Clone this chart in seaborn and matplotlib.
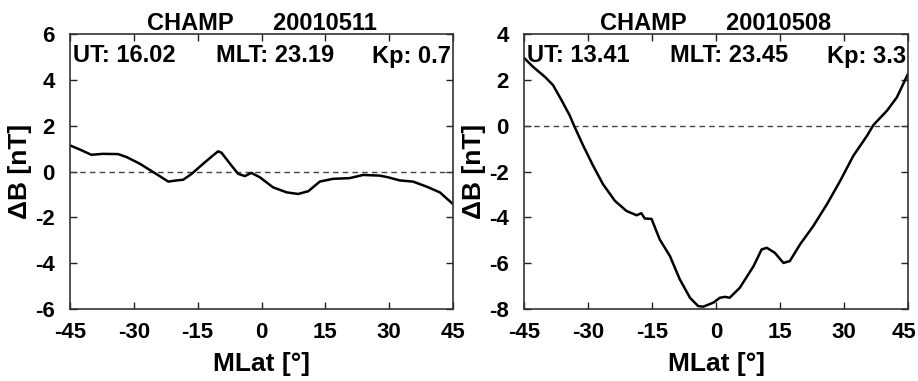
import numpy as np
import pandas as pd
import matplotlib
matplotlib.use("Agg")
import matplotlib.pyplot as plt
import matplotlib.transforms as mtransforms
import seaborn as sns

# ---- data ----
mlat_a = [-45, -42.7, -40, -37.2, -33.7, -31.7, -28.6, -25.4, -21.9, -20, -18.4, -16.4,
          -13.7, -11.4, -10.2, -9.4, -7.4, -5.5, -3.9, -2.4, -0.4, 2.7, 5.9, 8.6, 11,
          13.7, 16.8, 20.7, 23.9, 27.8, 29.7, 32.5, 35.6, 38.8, 41.9, 45]
db_a = [1.14, 0.96, 0.73, 0.77, 0.76, 0.63, 0.34, -0.03, -0.44, -0.39, -0.36, -0.10,
        0.34, 0.70, 0.88, 0.82, 0.34, -0.10, -0.20, -0.06, -0.25, -0.69, -0.91, -0.98, -0.86,
        -0.44, -0.32, -0.29, -0.15, -0.18, -0.25, -0.39, -0.44, -0.66, -0.91, -1.42]

mlat_b = [-45, -42.9, -40.1, -38.2, -36.2, -34.3, -33.1, -31.1, -28.8, -26.5, -23.7, -21,
          -18.6, -17.5, -16.7, -15.1, -13.2, -10.8, -8.5, -6.1, -4.2, -3, -0.6, 0.9, 2.1,
          3.2, 5.6, 8.8, 10.7, 11.9, 13.8, 15.8, 17.3, 19.7, 22.8, 26, 29.1, 32.2, 35.4,
          36.9, 40.1, 42.4, 45]
db_b = [2.96, 2.57, 2.13, 1.77, 1.11, 0.45, -0.07, -0.88, -1.75, -2.55, -3.28, -3.72,
        -3.91, -3.82, -4.05, -4.07, -4.96, -5.69, -6.70, -7.51, -7.87, -7.90, -7.72, -7.51, -7.47,
        -7.51, -7.07, -6.13, -5.40, -5.33, -5.55, -5.99, -5.91, -5.18, -4.38, -3.43, -2.41, -1.31, -0.44,
        0.03, 0.66, 1.24, 2.26]

titles = ["CHAMP      20010511", "CHAMP      20010508"]
ut_labels = ["UT: 16.02", "UT: 13.41"]
mlt_labels = ["MLT: 23.19", "MLT: 23.45"]
kp_labels = ["Kp: 0.7", "Kp: 3.3"]
xticks = [-45, -30, -15, 0, 15, 30, 45]
yticks_a = [-6, -4, -2, 0, 2, 4, 6]
yticks_b = [-8, -6, -4, -2, 0, 2, 4]

sns.set_style("ticks")
plt.rcParams['font.family'] = ['Liberation Sans', 'DejaVu Sans']
plt.rcParams['font.weight'] = 'bold'
plt.rcParams['text.color'] = 'black'
plt.rcParams['axes.labelcolor'] = 'black'
plt.rcParams['xtick.color'] = 'black'
plt.rcParams['ytick.color'] = 'black'

fig = plt.figure(figsize=(9.18, 3.81), dpi=100)
ax1 = fig.add_axes([70/918, 1-309/381, (453-70)/918, (309-34)/381])
ax2 = fig.add_axes([524/918, 1-309/381, (908-524)/918, (309-34)/381])

panels = [
    (ax1, mlat_a, db_a, yticks_a, 0),
    (ax2, mlat_b, db_b, yticks_b, 1),
]
for ax, x, y, yt, i in panels:
    df = pd.DataFrame({"MLat": x, "dB": y})
    sns.lineplot(data=df, x="MLat", y="dB", ax=ax, color="black", linewidth=1.8)
    ax.axhline(0, color="#444444", linestyle=(0, (4, 3)), linewidth=1.0, zorder=1)
    ax.set_xlim(-45, 45)
    ax.set_ylim(yt[0], yt[-1])
    ax.set_xticks(xticks)
    ax.set_yticks(yt)
    ax.set_xticklabels([str(v) for v in xticks])
    ax.set_yticklabels([str(v) for v in yt])
    ax.tick_params(direction="in", length=5, width=1, top=True, right=True,
                   labelsize=16, pad=9, colors="#222222", labelcolor="black")
    ax.tick_params(axis="y", pad=11)
    for s in ax.spines.values():
        s.set_visible(True)
        s.set_linewidth(1.2)
        s.set_color("#333333")
    ax.set_xlabel("MLat [°]", fontsize=19, fontweight="bold", labelpad=7, color="black")
    ax.set_ylabel("ΔB [nT]", fontsize=19, fontweight="bold", labelpad=2, color="black")
    ax.set_title(titles[i], fontsize=17, fontweight="bold", pad=3, color="black")
    ax.text(0.008, 0.92, ut_labels[i], transform=ax.transAxes, fontsize=17,
            fontweight="bold", ha="left", va="center", color="black")
    ax.text(0.535, 0.92, mlt_labels[i], transform=ax.transAxes, fontsize=17,
            fontweight="bold", ha="center", va="center", color="black")
    ax.text(0.995, 0.92, kp_labels[i], transform=ax.transAxes, fontsize=17,
            fontweight="bold", ha="right", va="center", color="black")

# keep the last tick label of the right panel inside the figure
lab = ax2.get_xticklabels()[-1]
lab.set_transform(lab.get_transform() + mtransforms.ScaledTranslation(-4/100, 0, fig.dpi_scale_trans))

fig.savefig("out.png", dpi=100, facecolor="white")
